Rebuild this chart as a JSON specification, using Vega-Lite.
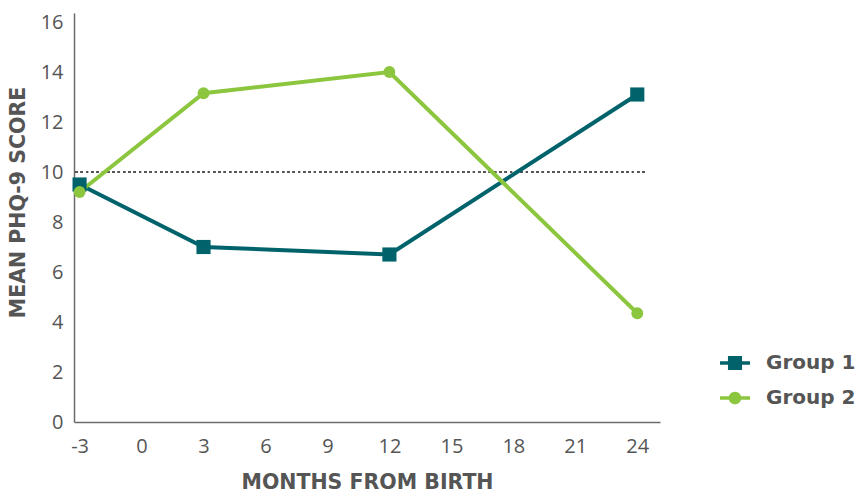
{
  "$schema": "https://vega.github.io/schema/vega-lite/v6.json",
  "autosize": "none",
  "width": 586,
  "height": 409,
  "padding": {"left": 74, "top": 13, "right": 199, "bottom": 73},
  "background": "white",
  "config": {
    "view": {"stroke": null},
    "font": "Open Sans",
    "axis": {"grid": false, "ticks": false, "domainColor": "#6b6b6b", "domainWidth": 1.5, "labelColor": "#555555", "labelFontSize": 20, "labelFont": "Open Sans", "titleColor": "#555555", "titleFont": "DejaVu Sans", "titleFontWeight": "bold", "titleFontSize": 20.5}
  },
  "data": {
    "values": [
      {"month": -3, "score": 9.5, "group": "Group 1"},
      {"month": 3, "score": 7.0, "group": "Group 1"},
      {"month": 12, "score": 6.7, "group": "Group 1"},
      {"month": 24, "score": 13.1, "group": "Group 1"},
      {"month": -3, "score": 9.2, "group": "Group 2"},
      {"month": 3, "score": 13.15, "group": "Group 2"},
      {"month": 12, "score": 14.0, "group": "Group 2"},
      {"month": 24, "score": 4.35, "group": "Group 2"}
    ]
  },
  "encoding": {
    "x": {"field": "month", "type": "quantitative", "scale": {"domain": [-3.27, 25.1], "nice": false, "zero": false},
      "axis": {"values": [-3, 0, 3, 6, 9, 12, 15, 18, 21, 24], "labelExpr": "replace(datum.label, '−', '-')", "labelPadding": 14, "title": "MONTHS FROM BIRTH", "titlePadding": 16, "labelFlush": false}},
    "y": {"field": "score", "type": "quantitative", "scale": {"domain": [0, 16.36], "nice": false},
      "axis": {"values": [0, 2, 4, 6, 8, 10, 12, 14, 16], "labelPadding": 11, "title": "MEAN PHQ-9 SCORE", "titleX": -46, "titleY": 189}}
  },
  "layer": [
    {
      "mark": {"type": "rule", "strokeDash": [2, 3.3], "strokeWidth": 2, "color": "#555555"},
      "encoding": {"y": {"datum": 10}, "x": {"datum": -3.2}, "x2": {"datum": 24.5}}
    },
    {
      "mark": {"type": "line", "strokeWidth": 4},
      "encoding": {"color": {"field": "group", "type": "nominal", "scale": {"domain": ["Group 1", "Group 2"], "range": ["#00636b", "#8cc63f"]},
        "legend": {"title": null, "orient": "none", "legendX": 646, "legendY": 335, "symbolSize": 900, "labelOffset": 16, "labelFontSize": 20, "labelFontWeight": "bold", "labelColor": "#555555", "labelFont": "DejaVu Sans", "rowPadding": 10,
          "encode": {"symbols": {"update": {
            "shape": {"signal": "datum.value === 'Group 1' ? 'M-1,-0.12H1V0.12H-1Z M-0.47,-0.47H0.47V0.47H-0.47Z' : 'M-1,-0.12H1V0.12H-1Z M0.42,0 A0.42,0.42 0 1,1 -0.42,0 A0.42,0.42 0 1,1 0.42,0 Z'"},
            "fill": {"scale": "color", "field": "value"},
            "fillOpacity": {"value": 1},
            "opacity": {"value": 1},
            "strokeWidth": {"value": 0}}}}}}}
    },
    {
      "transform": [{"filter": "datum.group === 'Group 1'"}],
      "mark": {"type": "point", "shape": "square", "filled": true, "opacity": 1, "size": 200},
      "encoding": {"color": {"field": "group", "type": "nominal"}}
    },
    {
      "transform": [{"filter": "datum.group === 'Group 2'"}],
      "mark": {"type": "point", "shape": "circle", "filled": true, "opacity": 1, "size": 140},
      "encoding": {"color": {"field": "group", "type": "nominal"}}
    }
  ]
}
